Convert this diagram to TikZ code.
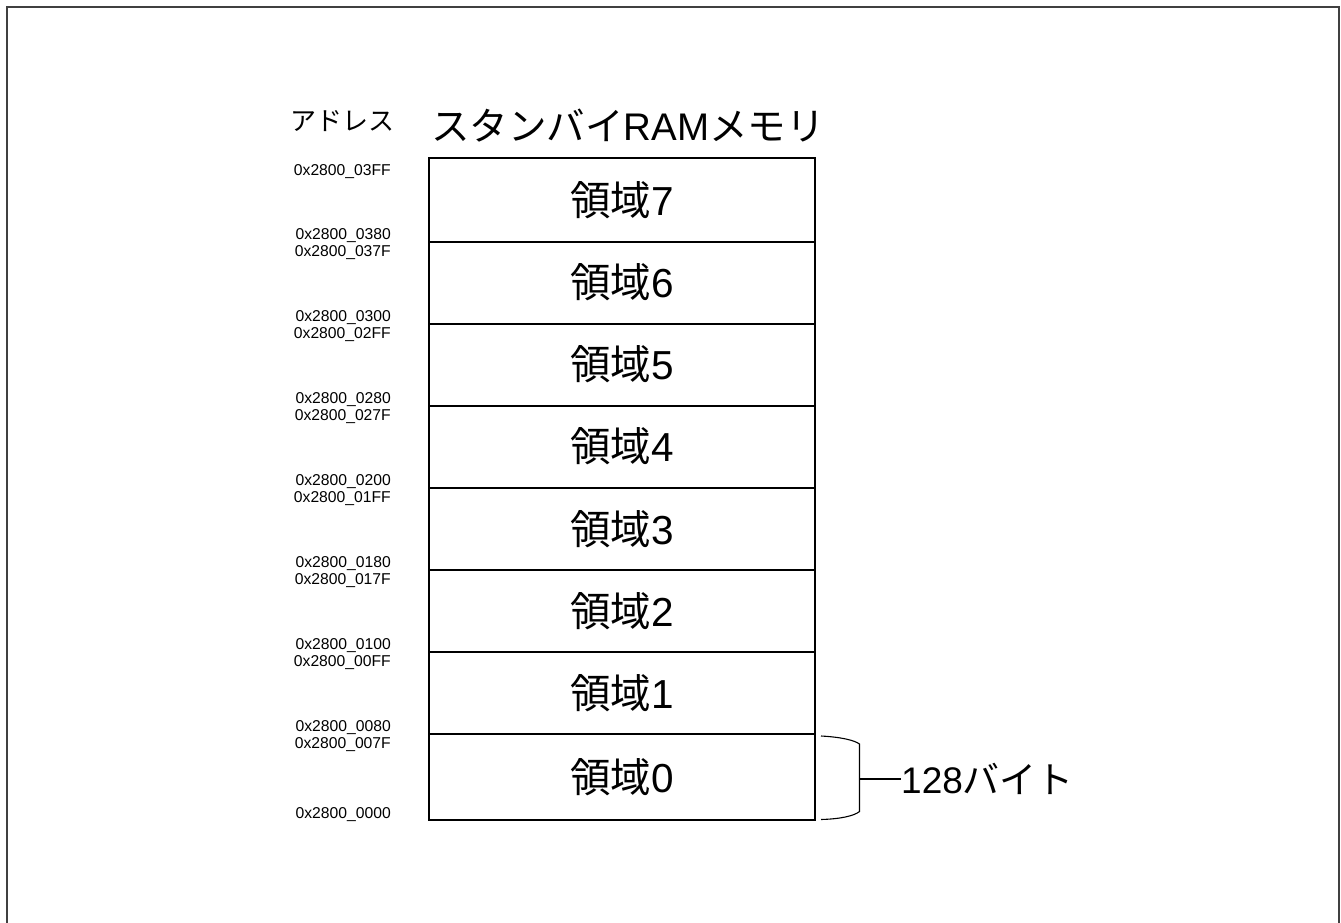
\documentclass[tikz,border=0pt]{standalone}
\usepackage{fontspec}
\setmainfont{Liberation Sans}
\newfontfamily\jp{Noto Sans CJK JP}
\definecolor{framegray}{RGB}{64,64,64}
\tikzset{
  cell/.style={draw, line width=2pt, minimum width=386pt, inner sep=0pt,
    font=\fontsize{40.5}{44}\selectfont},
  addr/.style={anchor=base east, inner sep=0pt, font=\fontsize{15.7}{18}\selectfont},
  thinline/.style={line width=1.1pt},
}
\begin{document}
\begin{tikzpicture}[x=1pt,y=-1pt]
\clip (0,0) rectangle (1341,923);
\draw[line width=2pt, framegray] (6.5,7.5) rectangle (1338.5,950);

% headings
\node[inner sep=0pt, font=\fontsize{26}{30}\selectfont\jp] (addrhead) at (342.5,121) {アドレス};
\node[inner sep=0pt, font=\fontsize{38.5}{44}\selectfont] (title) at (628,126) {{\jp スタンバイ}RAM{\jp メモリ}};

% memory cells
\node[cell, minimum height=83.5pt] (r7) at (622,199.75) {{\jp 領域}7};
\node[cell, minimum height=82pt]   (r6) at (622,282.5)  {{\jp 領域}6};
\node[cell, minimum height=82pt]   (r5) at (622,364.5)  {{\jp 領域}5};
\node[cell, minimum height=82pt]   (r4) at (622,446.5)  {{\jp 領域}4};
\node[cell, minimum height=82.5pt] (r3) at (622,528.75) {{\jp 領域}3};
\node[cell, minimum height=81.5pt] (r2) at (622,610.75) {{\jp 領域}2};
\node[cell, minimum height=82.5pt] (r1) at (622,692.75) {{\jp 領域}1};
\node[cell, minimum height=86pt]   (r0) at (622,777)    {{\jp 領域}0};

% addresses
\node[addr] (a03FF) at (391,175.6) {0x2800\_03FF};
\node[addr] (a0380) at (391,239.1) {0x2800\_0380};
\node[addr] (a037F) at (391,256.1) {0x2800\_037F};
\node[addr] (a0300) at (391,321.1) {0x2800\_0300};
\node[addr] (a02FF) at (391,338.1) {0x2800\_02FF};
\node[addr] (a0280) at (391,403.1) {0x2800\_0280};
\node[addr] (a027F) at (391,420.1) {0x2800\_027F};
\node[addr] (a0200) at (391,485.1) {0x2800\_0200};
\node[addr] (a01FF) at (391,502.1) {0x2800\_01FF};
\node[addr] (a0180) at (391,567.6) {0x2800\_0180};
\node[addr] (a017F) at (391,584.6) {0x2800\_017F};
\node[addr] (a0100) at (391,649.1) {0x2800\_0100};
\node[addr] (a00FF) at (391,666.1) {0x2800\_00FF};
\node[addr] (a0080) at (391,731.6) {0x2800\_0080};
\node[addr] (a007F) at (391,748.6) {0x2800\_007F};
\node[addr] (a0000) at (391,818.6) {0x2800\_0000};

% brace for region 0
\coordinate (btop) at (821,736);
\coordinate (bbot) at (821,819.5);
\coordinate (bmid) at (859.5,779);
\node[inner sep=0pt, anchor=west, font=\fontsize{37}{42}\selectfont] (bytes) at (901,779) {128{\jp バイト}};
\draw[thinline] (btop) .. controls (840,737) and (854,740) .. (859.5,744)
  -- (859.5,811.5) .. controls (854,816) and (840,819) .. (bbot);
\draw[thinline] (bmid) -- (bytes.west);
\end{tikzpicture}
\end{document}
